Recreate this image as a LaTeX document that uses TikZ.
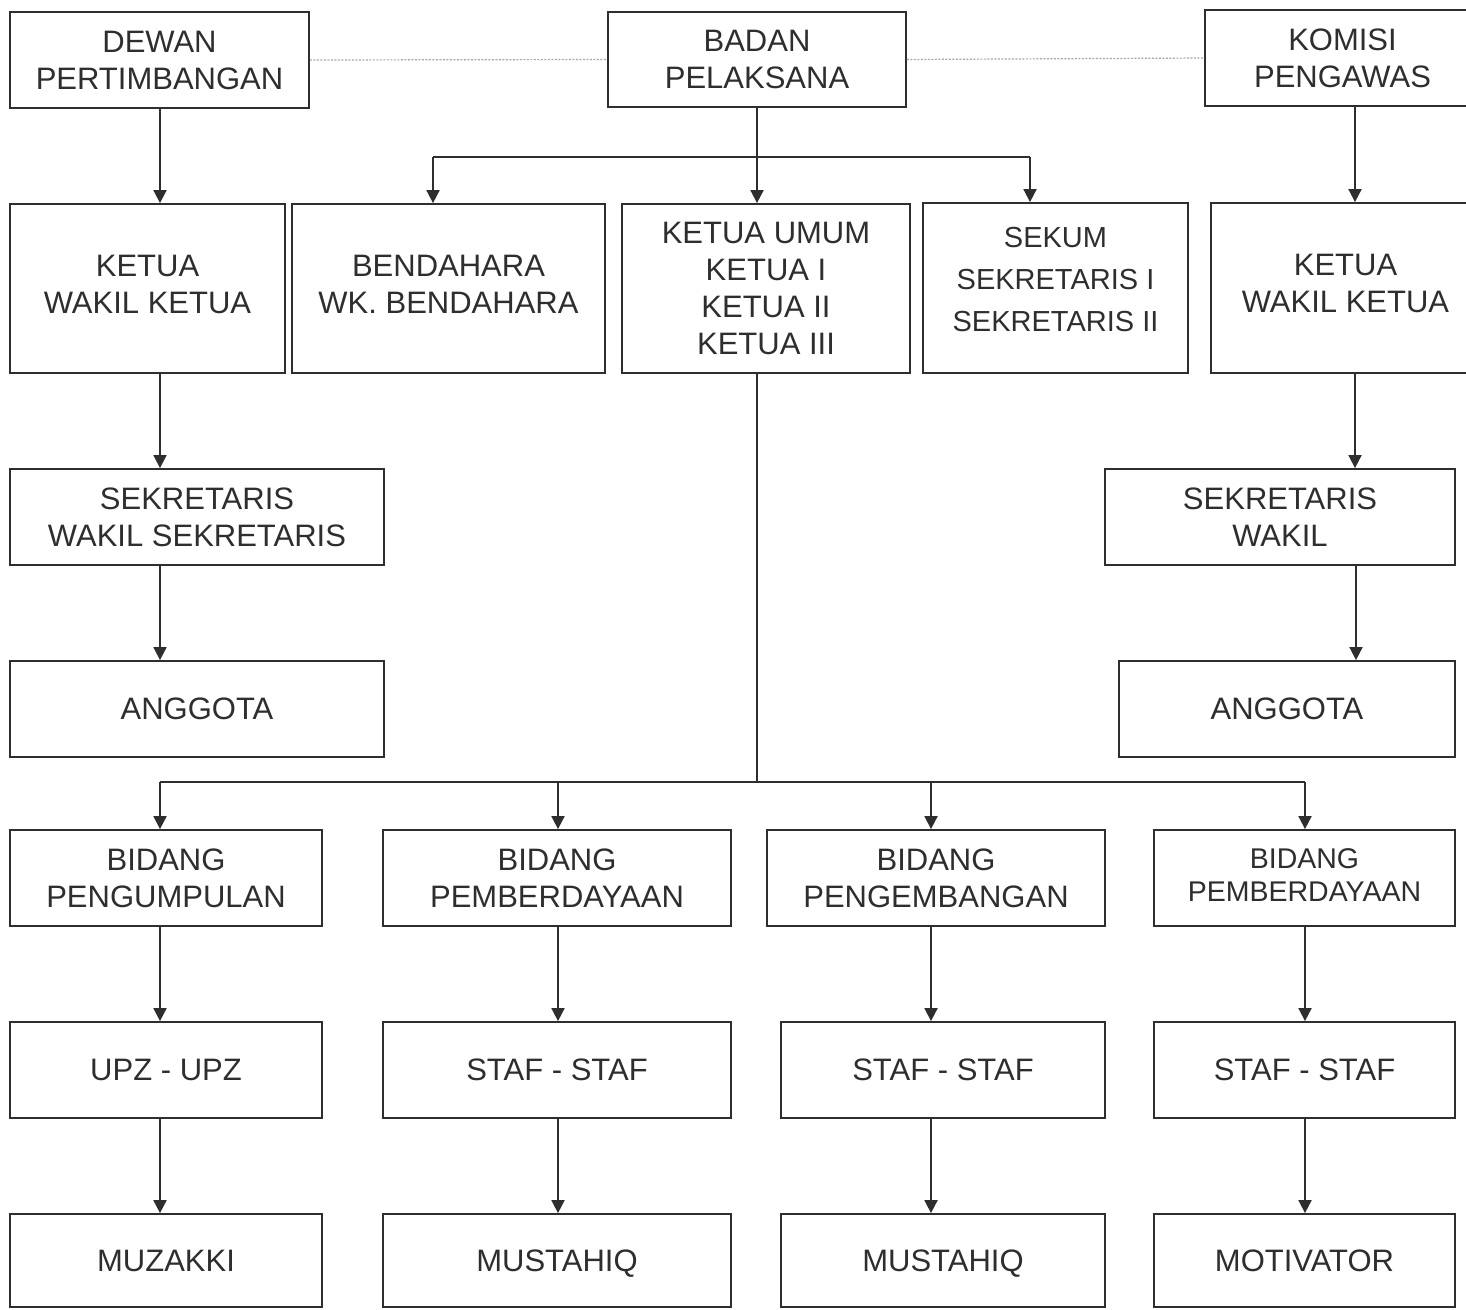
\documentclass[tikz,border=0pt]{standalone}
\usepackage{fontspec}
\setmainfont{Liberation Sans}
\usetikzlibrary{arrows.meta}
\definecolor{ink}{HTML}{2E2E2E}
\tikzset{
  box/.style={draw=ink, line width=1.8pt, inner sep=0pt, align=center, text=ink,
    font=\fontsize{31}{37}\selectfont},
  arr/.style={draw=ink, line width=1.8pt, -{Triangle[width=13pt,length=13pt]}},
  ln/.style={draw=ink, line width=1.8pt},
  dotline/.style={draw=gray!70, line width=1.2pt, dash pattern=on 2pt off 1.5pt}
}
\begin{document}
\begin{tikzpicture}[x=1pt,y=-1pt]
\useasboundingbox[fill=white] (0,0) rectangle (1466,1309);
% top row
\node[box, minimum width=299pt, minimum height=96pt] (dewan) at (159.5,60) {DEWAN\\PERTIMBANGAN};
\node[box, minimum width=298pt, minimum height=95pt] (badan) at (757,59.5) {BADAN\\PELAKSANA};
\node[box, minimum width=275pt, minimum height=96pt] (komisi) at (1342.5,58) {KOMISI\\PENGAWAS};
% second row
\node[box, minimum width=275pt, minimum height=169pt, text depth=9pt] (ketuaL) at (147.5,288.5) {KETUA\\WAKIL KETUA};
\node[box, minimum width=313pt, minimum height=169pt, text depth=9pt] (bend) at (448.5,288.5) {BENDAHARA\\WK. BENDAHARA};
\node[box, minimum width=288pt, minimum height=169pt] (ketum) at (766,288.5) {KETUA UMUM\\KETUA I\\KETUA II\\KETUA III};
\node[box, minimum width=265pt, minimum height=170pt, font=\fontsize{29}{42}\selectfont] (sekum) at (1055.5,288) {SEKUM\\SEKRETARIS I\\SEKRETARIS II\vphantom{g}\\[-24pt]~};
\node[box, minimum width=269pt, minimum height=170pt, text depth=9pt] (ketuaR) at (1345.5,288) {KETUA\\WAKIL KETUA};
% third row
\node[box, minimum width=374pt, minimum height=96pt] (sekL) at (197,517) {SEKRETARIS\\WAKIL SEKRETARIS};
\node[box, minimum width=350pt, minimum height=96pt] (sekR) at (1280,517) {SEKRETARIS\\WAKIL};
% fourth row
\node[box, minimum width=374pt, minimum height=96pt] (angL) at (197,709) {ANGGOTA};
\node[box, minimum width=336pt, minimum height=96pt] (angR) at (1287,709) {ANGGOTA};
% bidang row
\node[box, minimum width=312pt, minimum height=96pt] (bid1) at (166,878) {BIDANG\\PENGUMPULAN};
\node[box, minimum width=348pt, minimum height=96pt] (bid2) at (557,878) {BIDANG\\PEMBERDAYAAN};
\node[box, minimum width=338pt, minimum height=96pt] (bid3) at (936,878) {BIDANG\\PENGEMBANGAN};
\node[box, minimum width=301pt, minimum height=96pt, font=\fontsize{28.5}{33}\selectfont, text depth=5pt] (bid4) at (1304.5,878) {BIDANG\\PEMBERDAYAAN};
% staf row
\node[box, minimum width=312pt, minimum height=96pt] (upz) at (166,1070) {UPZ - UPZ};
\node[box, minimum width=348pt, minimum height=96pt] (staf1) at (557,1070) {STAF - STAF};
\node[box, minimum width=324pt, minimum height=96pt] (staf2) at (943,1070) {STAF - STAF};
\node[box, minimum width=301pt, minimum height=96pt] (staf3) at (1304.5,1070) {STAF - STAF};
% bottom row
\node[box, minimum width=312pt, minimum height=93pt] (muz) at (166,1260.5) {MUZAKKI};
\node[box, minimum width=348pt, minimum height=93pt, text depth=0pt] (must1) at (557,1260.5) {MUSTAHIQ};
\node[box, minimum width=324pt, minimum height=93pt, text depth=0pt] (must2) at (943,1260.5) {MUSTAHIQ};
\node[box, minimum width=301pt, minimum height=93pt] (motiv) at (1304.5,1260.5) {MOTIVATOR};
% dotted links
\draw[dotline] (dewan.east) -- (badan.west);
\draw[dotline] (badan.east) -- (komisi.west);
% coordinates
\coordinate (jt) at (757,157);
\coordinate (jtl) at (433,157);
\coordinate (jtr) at (1030,157);
\coordinate (jb) at (757,782);
\coordinate (jb1) at (160,782);
\coordinate (jb2) at (558,782);
\coordinate (jb3) at (931,782);
\coordinate (jb4) at (1305,782);
% top connectors
\draw[arr] (dewan.south -| jb1) -- (ketuaL.north -| jb1);
\draw[arr] (badan.south) -- (badan.south |- ketum.north);
\draw[ln] (jtl) -- (jtr);
\draw[arr] (jtl) -- (jtl |- bend.north);
\draw[arr] (jtr) -- (jtr |- sekum.north);
\coordinate (kx) at (1355,0);
\draw[arr] (komisi.south -| kx) -- (ketuaR.north -| kx);
\draw[arr] (ketuaL.south -| jb1) -- (sekL.north -| jb1);
\draw[arr] (sekL.south -| jb1) -- (angL.north -| jb1);
\draw[arr] (ketuaR.south -| kx) -- (sekR.north -| kx);
\coordinate (kx2) at (1356,0);
\draw[arr] (sekR.south -| kx2) -- (angR.north -| kx2);
% lower connectors
\draw[ln] (ketum.south -| jb) -- (jb);
\draw[ln] (jb1) -- (jb4);
\draw[arr] (jb1) -- (jb1 |- bid1.north);
\draw[arr] (jb2) -- (jb2 |- bid2.north);
\draw[arr] (jb3) -- (jb3 |- bid3.north);
\draw[arr] (jb4) -- (jb4 |- bid4.north);
\draw[arr] (bid1.south -| jb1) -- (upz.north -| jb1);
\draw[arr] (bid2.south -| jb2) -- (staf1.north -| jb2);
\draw[arr] (bid3.south -| jb3) -- (staf2.north -| jb3);
\draw[arr] (bid4.south -| jb4) -- (staf3.north -| jb4);
\draw[arr] (upz.south -| jb1) -- (muz.north -| jb1);
\draw[arr] (staf1.south -| jb2) -- (must1.north -| jb2);
\draw[arr] (staf2.south -| jb3) -- (must2.north -| jb3);
\draw[arr] (staf3.south -| jb4) -- (motiv.north -| jb4);
\end{tikzpicture}
\end{document}
